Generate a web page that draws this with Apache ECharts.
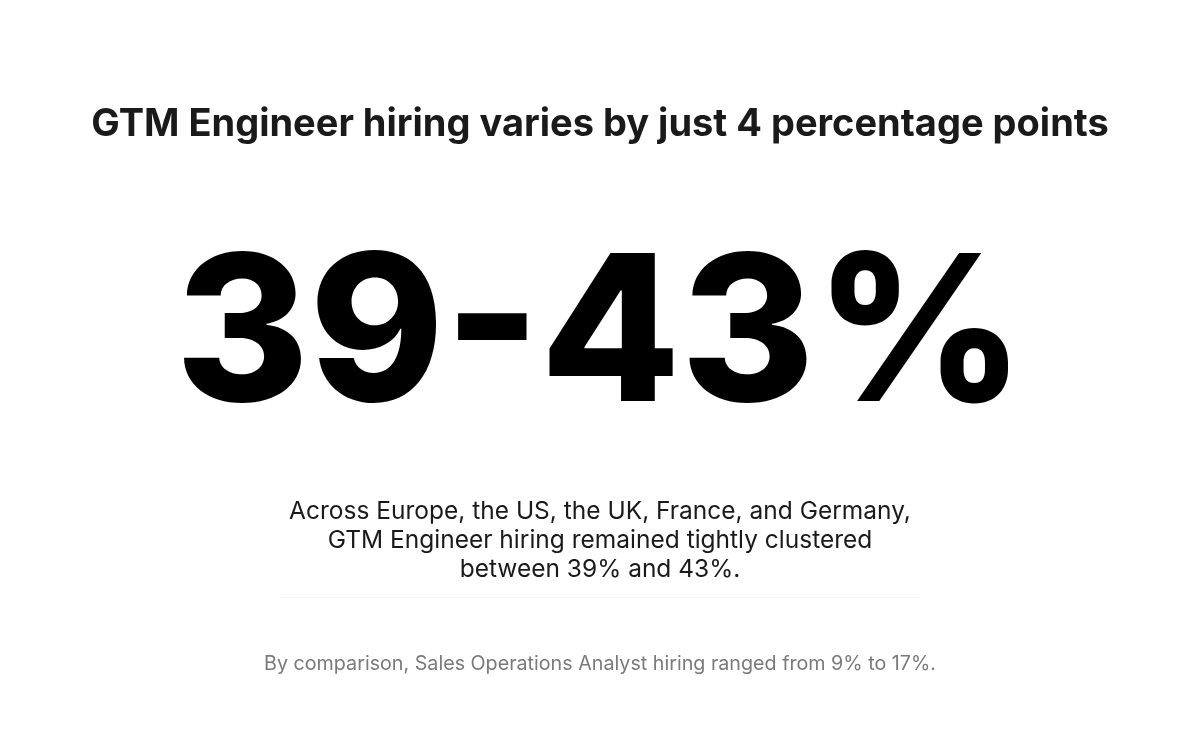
<!DOCTYPE html><html><head><meta charset="utf-8">
<script src="https://cdn.jsdelivr.net/npm/echarts@6/dist/echarts.min.js"></script>
<style>html,body{margin:0;background:#fff}#c{width:1200px;height:750px}</style></head><body><div id="c"></div>
<script>
const gtmRange = [39, 43];
const salesOpsRange = [9, 17];
const regions = ['Europe', 'the US', 'the UK', 'France', 'and Germany'];
const title = 'GTM Engineer hiring varies by just 4 percentage points';
const chart = echarts.init(document.getElementById('c'));
const grad = new echarts.graphic.LinearGradient(0,0,1,0,[{offset:0,color:'#d4a5fb'},{offset:1,color:'#4e49f6'}]);
chart.setOption({
  backgroundColor: '#fff',
  graphic: [
    {type:'text', left:'center', top:106, style:{text:title, font:'700 38px Inter, "Noto Sans", sans-serif', fill:'#1a1a1a', letterSpacing:-1}},
    {type:'text', x:600, y:238, style:{text:gtmRange[0]+'-'+gtmRange[1]+'%', align:'center', font:'800 204px Inter, "Noto Sans", sans-serif', letterSpacing:-14, fill:grad}},
    {type:'text', x:600, y:497, style:{text:'Across '+regions.join(', ')+',\nGTM Engineer hiring remained tightly clustered\nbetween '+gtmRange[0]+'% and '+gtmRange[1]+'%.',
      font:'400 24.5px Inter, "Noto Sans", sans-serif', fill:'#1a1a1a', align:'center', lineHeight:29}},
    {type:'rect', shape:{x:280,y:597,width:640,height:1}, style:{fill:'#f4f4f4'}},
    {type:'text', x:600, y:654, style:{text:'By comparison, Sales Operations Analyst hiring ranged from '+salesOpsRange[0]+'% to '+salesOpsRange[1]+'%.',
      align:'center', font:'400 19.7px Inter, "Noto Sans", sans-serif', fill:'#7a7a7a'}}
  ]
});
</script></body></html>
